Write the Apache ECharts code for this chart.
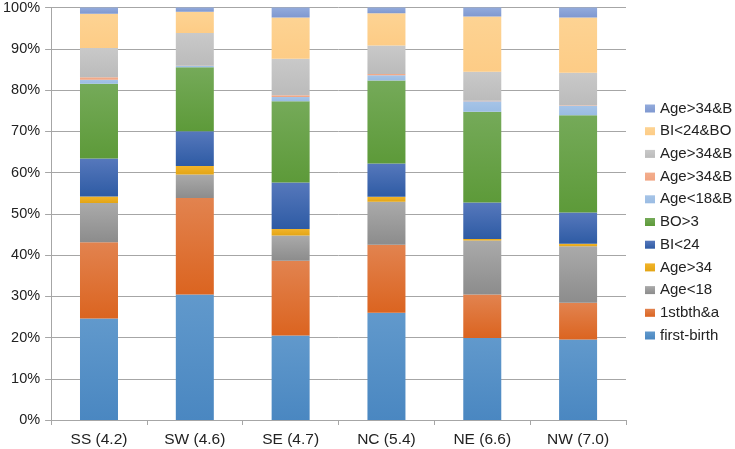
<!DOCTYPE html>
<html>
<head>
<meta charset="utf-8">
<script src="https://cdn.jsdelivr.net/npm/echarts@6/dist/echarts.min.js"></script>
<style>html,body{margin:0;padding:0;background:#fff;}#c{width:735px;height:449px;}</style>
</head>
<body>
<div id="c"></div>
<script>
var categories = ['SS (4.2)', 'SW (4.6)', 'SE (4.7)', 'NC (5.4)', 'NE (6.6)', 'NW (7.0)'];
var seriesLabels = ['first-birth', '1stbth&a', 'Age<18', 'Age>34', 'BI<24', 'BO>3', 'Age<18&B', 'Age>34&B', 'Age>34&B', 'BI<24&BO', 'Age>34&B'];
var firstBirth = [24.6, 30.4, 20.5, 26.0, 19.9, 19.5];
var firstBthA  = [18.5, 23.4, 18.1, 16.5, 10.5, 8.9];
var ageLt18    = [9.5, 5.7, 6.1, 10.4, 13.1, 13.7];
var ageGt34    = [1.6, 2.1, 1.6, 1.2, 0.4, 0.6];
var biLt24     = [9.2, 8.4, 11.3, 8.1, 8.8, 7.6];
var boGt3      = [18.1, 15.5, 19.7, 20.1, 22.0, 23.6];
var ageLt18B   = [1.0, 0.3, 1.0, 1.3, 2.6, 2.3];
var ageGt34B_a = [0.6, 0.1, 0.4, 0.3, 0.1, 0.1];
var ageGt34B_b = [7.1, 7.9, 8.9, 6.9, 7.0, 7.9];
var biLt24BO   = [8.3, 5.2, 10.0, 7.8, 13.4, 13.4];
var ageGt34B_c = [1.5, 1.0, 2.4, 1.4, 2.2, 2.4];
var yTicks = [0, 10, 20, 30, 40, 50, 60, 70, 80, 90, 100];

var allData = [firstBirth, firstBthA, ageLt18, ageGt34, biLt24, boGt3, ageLt18B, ageGt34B_a, ageGt34B_b, biLt24BO, ageGt34B_c];
var colors = [
  ['#6199CC', '#4A87C1'],
  ['#E2834F', '#DB6420'],
  ['#AAAAAA', '#8C8C8C'],
  ['#F2B42A', '#E3A515'],
  ['#5678BC', '#2E5BA4'],
  ['#75AA59', '#5D9A39'],
  ['#A6C4E7', '#9ABCE3'],
  ['#F3AE8D', '#F1A482'],
  ['#C9C9C9', '#BBBBBB'],
  ['#FDD393', '#FDCC86'],
  ['#93ABDC', '#7F98D0']
];
// unique internal keys (legend shows the original label text)
var keys = seriesLabels.map(function (n, i) { return n + '#' + i; });

var series = keys.map(function (k, i) {
  return {
    name: k,
    type: 'bar',
    stack: 'total',
    barWidth: 38,
    data: allData[i],
    itemStyle: {
      color: new echarts.graphic.LinearGradient(0, 0, 0, 1, [
        { offset: 0, color: colors[i][0] },
        { offset: 1, color: colors[i][1] }
      ])
    },
    emphasis: { disabled: true }
  };
});

var chart = echarts.init(document.getElementById('c'));
chart.setOption({
  animation: false,
  textStyle: { fontFamily: 'Liberation Sans, Arial, sans-serif' },
  grid: { left: 49, right: 109, top: 7, bottom: 29, containLabel: false },
  legend: {
    orient: 'vertical',
    left: 640,
    top: 101,
    padding: [0, 0, 0, 5],
    itemWidth: 10,
    itemHeight: 8,
    itemGap: 7.7,
    icon: 'rect',
    data: keys.slice().reverse(),
    formatter: function (name) { return name.split('#')[0]; },
    textStyle: { fontSize: 15, color: '#222', lineHeight: 15 }
  },
  xAxis: {
    type: 'category',
    data: categories,
    axisLine: { lineStyle: { color: '#A6A6A6', width: 1 } },
    axisTick: { show: true, length: 5, lineStyle: { color: '#A6A6A6' } },
    axisLabel: { fontSize: 15.5, color: '#222', margin: 12 }
  },
  yAxis: {
    type: 'value',
    min: yTicks[0],
    max: yTicks[yTicks.length - 1],
    interval: 10,
    axisLine: { show: true, lineStyle: { color: '#A6A6A6' } },
    axisTick: { show: true, length: 6, lineStyle: { color: '#A6A6A6' } },
    axisLabel: { fontSize: 14.5, color: '#222', margin: 11, formatter: '{value}%' },
    splitLine: { lineStyle: { color: '#A6A6A6', width: 1 } }
  },
  series: series
});
</script>
</body>
</html>
